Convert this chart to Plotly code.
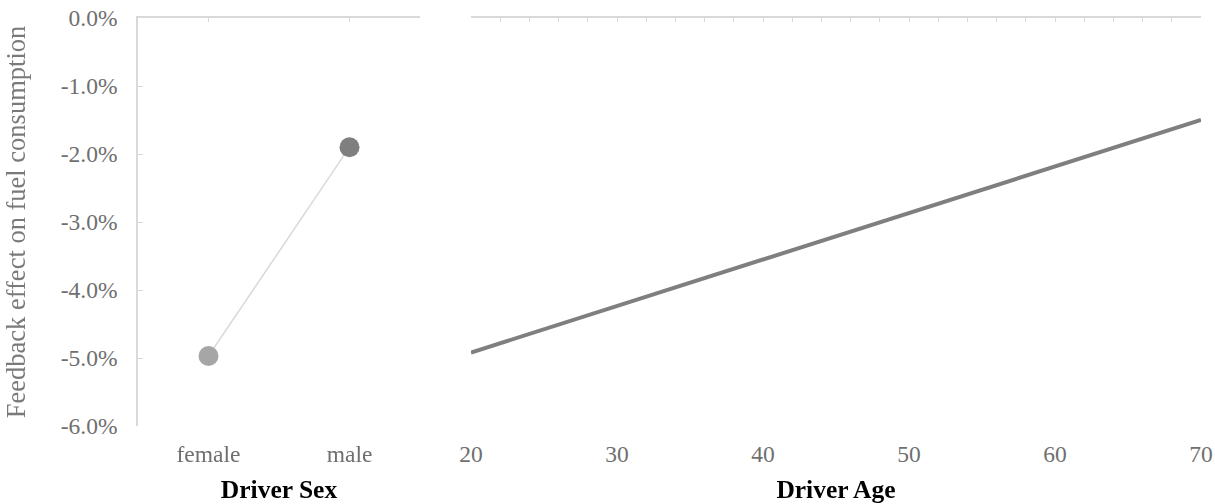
import plotly.graph_objects as go

# Data
sex_categories = ["female", "male"]
sex_effect = [-4.97, -1.90]          # % feedback effect
sex_marker_colors = ["#a6a6a6", "#7f7f7f"]

age_values = [20, 70]
age_effect = [-4.92, -1.50]

y_ticks = [0, -1, -2, -3, -4, -5, -6]
y_ticktext = [f"{v:.1f}%" for v in y_ticks]
age_ticks = [20, 30, 40, 50, 60, 70]

FONT = "Liberation Serif, Times New Roman, serif"
TICK_COLOR = "#6f6f6f"
LINE_COLOR = "#d9d9d9"

fig = go.Figure()

fig.add_trace(go.Scatter(
    x=sex_categories, y=sex_effect, mode="lines+markers",
    line=dict(color="#d9d9d9", width=1.5),
    marker=dict(size=20, color=sex_marker_colors, line=dict(width=0)),
    xaxis="x", yaxis="y", showlegend=False, hoverinfo="skip"))

fig.add_trace(go.Scatter(
    x=age_values, y=age_effect, mode="lines",
    line=dict(color="#7f7f7f", width=4),
    xaxis="x2", yaxis="y2", showlegend=False, hoverinfo="skip"))

# invisible traces so the top (mirror) axes get drawn
fig.add_trace(go.Scatter(x=[0, 1], y=sex_effect, mode="markers", opacity=0,
                         xaxis="x3", yaxis="y", showlegend=False,
                         hoverinfo="skip"))
fig.add_trace(go.Scatter(x=age_values, y=age_effect, mode="markers", opacity=0,
                         xaxis="x4", yaxis="y2", showlegend=False,
                         hoverinfo="skip"))

dom1 = [0, 282 / 1063]
dom2 = [333 / 1063, 1]

tickfont = dict(family=FONT, size=23.5, color=TICK_COLOR)
titlefont = dict(family=FONT, size=25.5, color="#000000")

fig.update_layout(
    width=1215, height=504,
    margin=dict(l=138, r=14, t=18, b=78),
    paper_bgcolor="white", plot_bgcolor="white",
    font=dict(family=FONT),
    xaxis=dict(domain=dom1, type="category", categoryorder="array",
               categoryarray=sex_categories, range=[-0.5, 1.5],
               showline=False, showgrid=False, zeroline=False, ticks="",
               tickfont=tickfont, ticklabelstandoff=11, automargin=False,
               title=dict(text="<b>Driver Sex</b>", font=titlefont, standoff=16),
               anchor="y"),
    xaxis3=dict(domain=dom1, overlaying="x", side="top", type="linear",
                range=[-0.5, 1.5], tickvals=[0, 1], ticks="inside", ticklen=4,
                tickcolor=LINE_COLOR, showline=True, linecolor=LINE_COLOR,
                linewidth=1.5, showticklabels=False, showgrid=False,
                zeroline=False, anchor="y", automargin=False),
    xaxis2=dict(domain=dom2, range=[20, 70], tickvals=age_ticks,
                showline=False, showgrid=False, zeroline=False, ticks="",
                tickfont=tickfont, ticklabelstandoff=11, automargin=False,
                title=dict(text="<b>Driver Age</b>", font=titlefont, standoff=16),
                anchor="y2"),
    xaxis4=dict(domain=dom2, overlaying="x2", side="top", type="linear",
                range=[20, 70], dtick=2, tick0=20, ticks="inside", ticklen=4,
                tickcolor=LINE_COLOR, showline=True, linecolor=LINE_COLOR,
                linewidth=1.5, showticklabels=False, showgrid=False,
                zeroline=False, anchor="y2", automargin=False),
    yaxis=dict(range=[-6, 0], tickvals=y_ticks, ticktext=y_ticktext,
               showline=True, linecolor=LINE_COLOR,
               linewidth=1.5, ticks="inside", ticklen=5, tickcolor=LINE_COLOR,
               showgrid=False, zeroline=False, tickfont=tickfont,
               ticklabelstandoff=14, automargin=False,
               title=dict(text="Feedback effect on fuel consumption",
                          font=dict(family=FONT, size=26.5, color="#7a7a7a"),
                          standoff=27),
               anchor="x"),
    yaxis2=dict(matches="y", range=[-6, 0], showline=False, showgrid=False,
                zeroline=False, showticklabels=False, ticks="", anchor="x2",
                automargin=False),
)

fig.write_html(
    "out.html",
    config={"displayModeBar": False},
    post_script="document.body.style.margin='0';document.body.style.overflow='hidden';",
)
